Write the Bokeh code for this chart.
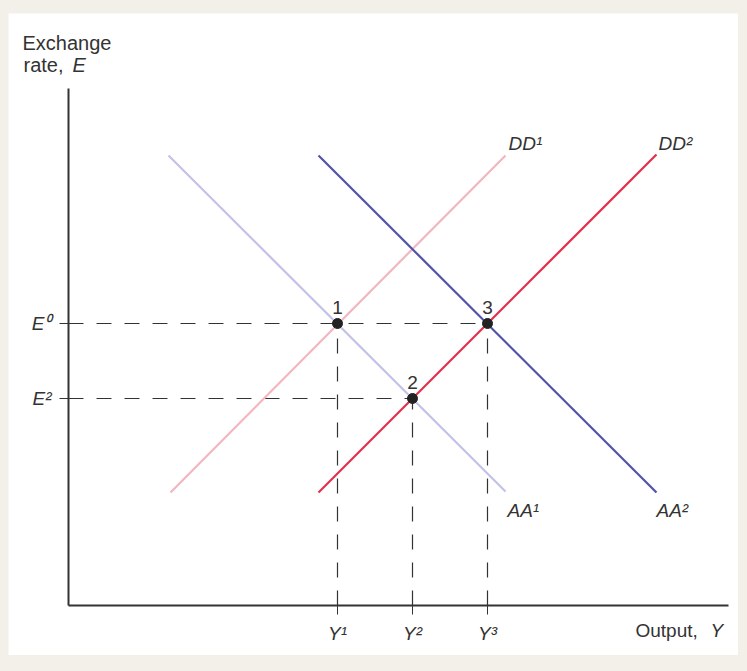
import re
from bokeh.plotting import figure
from bokeh.models import Range1d, Label, FixedTicker
from bokeh.embed import file_html
from bokeh.resources import INLINE

# ---- data ----
aa1_x = [10.0, 43.7]
aa1_y = [45.0, 11.4]
aa2_x = [25.0, 58.8]
aa2_y = [45.0, 11.3]
dd1_x = [10.2, 43.7]
dd1_y = [11.3, 45.0]
dd2_x = [25.0, 58.8]
dd2_y = [11.3, 45.1]

eq_x = [26.9, 34.4, 41.9]
eq_y = [28.2, 20.7, 28.2]
eq_labels = ["1", "2", "3"]

x_ticks = [26.9, 34.4, 41.9]
x_tick_labels = ["Y\u00b9", "Y\u00b2", "Y\u00b3"]
y_ticks = [28.2, 20.7]
y_tick_labels = ["E\u2070", "E\u00b2"]

curve_names = ["DD\u00b9", "DD\u00b2", "AA\u00b9", "AA\u00b2"]
curve_label_x = [44.0, 59.0, 43.9, 58.8]
curve_label_y = [46.2, 46.2, 9.5, 9.5]

x_max = 66.0
y_max = 51.7

FONT = "Liberation Sans"
TXT = "#333333"

p = figure(width=730, height=642, output_backend="svg", toolbar_location=None,
           x_range=Range1d(-6.0, 67.0), y_range=Range1d(-5.0, 59.2),
           min_border_left=0, min_border_right=0, min_border_top=0, min_border_bottom=0)
p.margin = (13, 0, 0, 8)
p.grid.visible = False
p.outline_line_color = None
p.background_fill_color = "white"
p.border_fill_color = "white"

p.xaxis[0].fixed_location = 0
p.xaxis[0].bounds = (0, x_max)
p.yaxis[0].fixed_location = 0
p.yaxis[0].bounds = (0, y_max)

for ax, ticks, labels in ((p.xaxis[0], x_ticks, x_tick_labels), (p.yaxis[0], y_ticks, y_tick_labels)):
    ax.ticker = FixedTicker(ticks=ticks)
    ax.major_label_overrides = {t: l for t, l in zip(ticks, labels)}
    ax.minor_tick_line_color = None
    ax.axis_line_color = "#333333"
    ax.axis_line_width = 2
    ax.major_tick_line_color = "#333333"
    ax.major_tick_line_width = 1
    ax.major_tick_out = 9
    ax.major_tick_in = 5
    ax.major_label_text_font = FONT
    ax.major_label_text_font_size = "19px"
    ax.major_label_text_font_style = "italic"
    ax.major_label_text_color = TXT
    ax.major_label_standoff = 8

# dashed guide lines
dash = "15 13"
h_y = [eq_y[0], eq_y[1]]
h_x1 = [eq_x[2], eq_x[1]]
p.segment(x0=[0, 0], y0=h_y, x1=h_x1, y1=h_y, line_color="#333333", line_width=1.2, line_dash=dash)
p.segment(x0=eq_x, y0=[0, 0, 0], x1=eq_x, y1=eq_y, line_color="#333333", line_width=1.2, line_dash=dash)

# curves
p.line(aa1_x, aa1_y, line_color="#c2c2e8", line_width=2.2)
p.line(dd1_x, dd1_y, line_color="#f2b6c0", line_width=2.2)
p.line(aa2_x, aa2_y, line_color="#5252aa", line_width=2.2)
p.line(dd2_x, dd2_y, line_color="#e2304a", line_width=2.2)

# equilibrium points
p.scatter(eq_x, eq_y, size=10, fill_color="#222222", line_color="#222222")
for x, y, t in zip(eq_x, eq_y, eq_labels):
    p.add_layout(Label(x=x, y=y, text=t, text_align="center", text_baseline="alphabetic",
                       y_offset=16, text_font=FONT, text_font_size="19px", text_color=TXT))

for x, y, t in zip(curve_label_x, curve_label_y, curve_names):
    p.add_layout(Label(x=x, y=y, text=t, text_align="left", text_baseline="middle",
                       text_font=FONT, text_font_size="19px", text_font_style="italic", text_color=TXT))

# axis titles
def lab(x, y, t, style="normal", size="20px"):
    p.add_layout(Label(x=x, y=y, text=t, text_align="left", text_baseline="alphabetic",
                       text_font=FONT, text_font_size=size, text_font_style=style, text_color=TXT))

lab(-4.6, 56.3, "Exchange")
lab(-4.5, 54.1, "rate,")
lab(0.4, 54.1, "E", "italic")
lab(56.7, -2.5, "Output,", size="19px")
lab(64.2, -2.5, "Y", "italic", size="19px")

html = file_html(p, INLINE)
style = "<style>html, body { background-color: #f3efe9 !important; }</style>"
html = html.replace("</head>", style + "\n</head>", 1)
open("out.html", "w").write(html)
